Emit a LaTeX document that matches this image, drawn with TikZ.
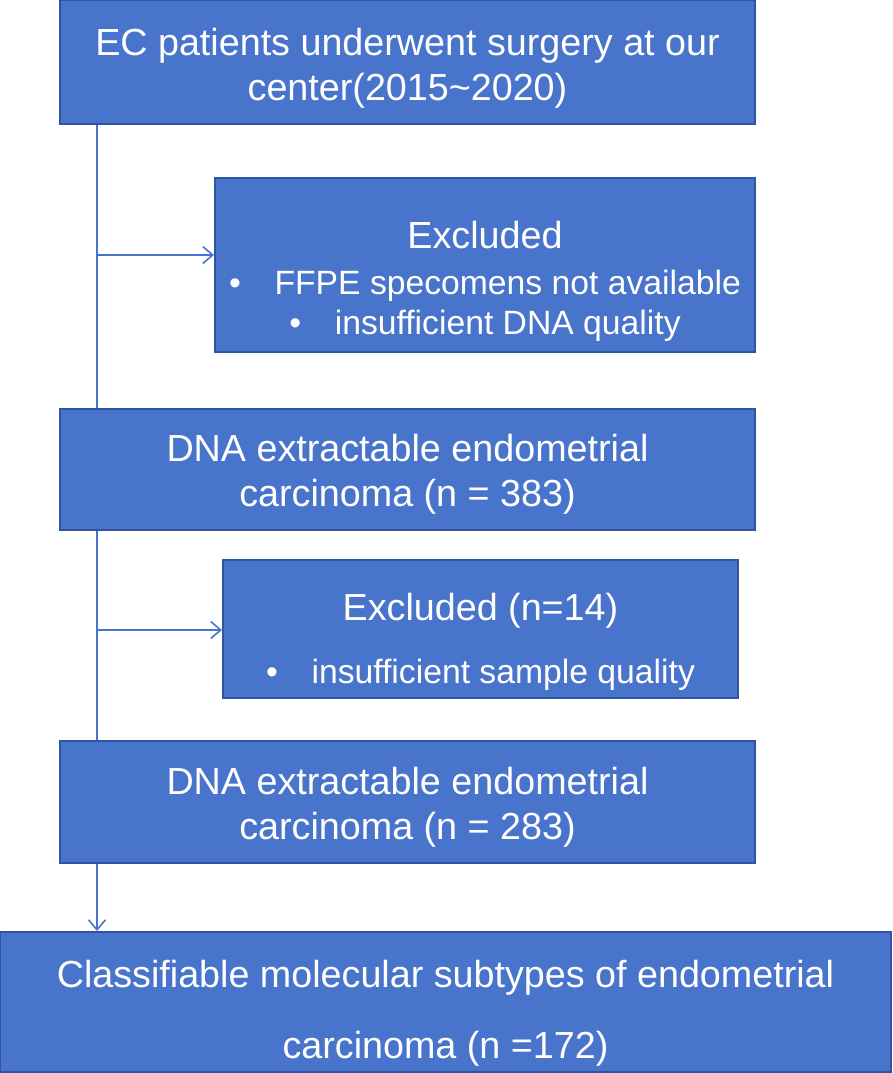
\documentclass[tikz,border=0pt]{standalone}
\usepackage{fontspec}
\setmainfont{Liberation Sans}
\usepackage{xcolor}
\usetikzlibrary{arrows.meta,positioning}

\definecolor{boxblue}{RGB}{72,116,203}
\definecolor{boxedge}{RGB}{47,84,160}
\newcommand{\bulletfont}{\fontsize{33.7}{40}\selectfont}

\begin{document}
\begin{tikzpicture}[x=1pt,y=-1pt,
    box/.style={draw=boxedge, line width=2pt, fill=boxblue, text=white, align=center,
        inner sep=0pt, font=\fontsize{37.7}{45}\selectfont},
    flow/.style={draw=boxblue, line width=1.6pt},
    flowarrow/.style={flow, -{Straight Barb[length=10pt,width=17pt]}}]
    \useasboundingbox (0,0) rectangle (893,1073);

    % All patients
    \node[box, minimum width=695pt, minimum height=124pt] (patients) at (407.5,62)
        {\rule{0pt}{40pt}EC patients underwent surgery at our\\center(2015\textasciitilde2020)};

    % First exclusion
    \node[box, minimum width=540pt, minimum height=174pt] (excluded1) at (485,265)
        {\rule{0pt}{60pt}Excluded\\[1pt]
         \bulletfont\textbullet\quad FFPE specomens not available\\[-5pt]
         \bulletfont\textbullet\quad insufficient DNA quality};

    % DNA extractable
    \node[box, minimum width=695pt, minimum height=121pt] (dna1) at (407.5,469.5)
        {\rule{0pt}{36pt}DNA extractable endometrial\\carcinoma (n = 383)};

    % Second exclusion
    \node[box, minimum width=515pt, minimum height=138pt] (excluded2) at (480.5,629)
        {\rule{0pt}{53pt}Excluded (n=14)\\[18pt]
         \bulletfont\textbullet\quad insufficient sample quality};

    % Sample quality passed
    \node[box, minimum width=695pt, minimum height=122pt] (dna2) at (407.5,802)
        {\rule{0pt}{38pt}DNA extractable endometrial\\carcinoma (n = 283)};

    % Final cohort
    \node[box, minimum width=891pt, minimum height=140pt] (subtypes) at (445.5,1002)
        {\rule{0pt}{49pt}Classifiable molecular subtypes of endometrial\\[26pt]carcinoma (n =172)};

    % Flow lines
    \coordinate (split1) at (97,255);
    \coordinate (split2) at (97,630);
    \draw[flow] (patients.south -| split1) -- (dna1.north -| split1);
    \draw[flowarrow] (split1) -- (split1 -| excluded1.west);
    \draw[flow] (dna1.south -| split2) -- (dna2.north -| split2);
    \draw[flowarrow] (split2) -- (split2 -| excluded2.west);
    \draw[flowarrow] (dna2.south -| split1) -- (subtypes.north -| split1);
\end{tikzpicture}
\end{document}
